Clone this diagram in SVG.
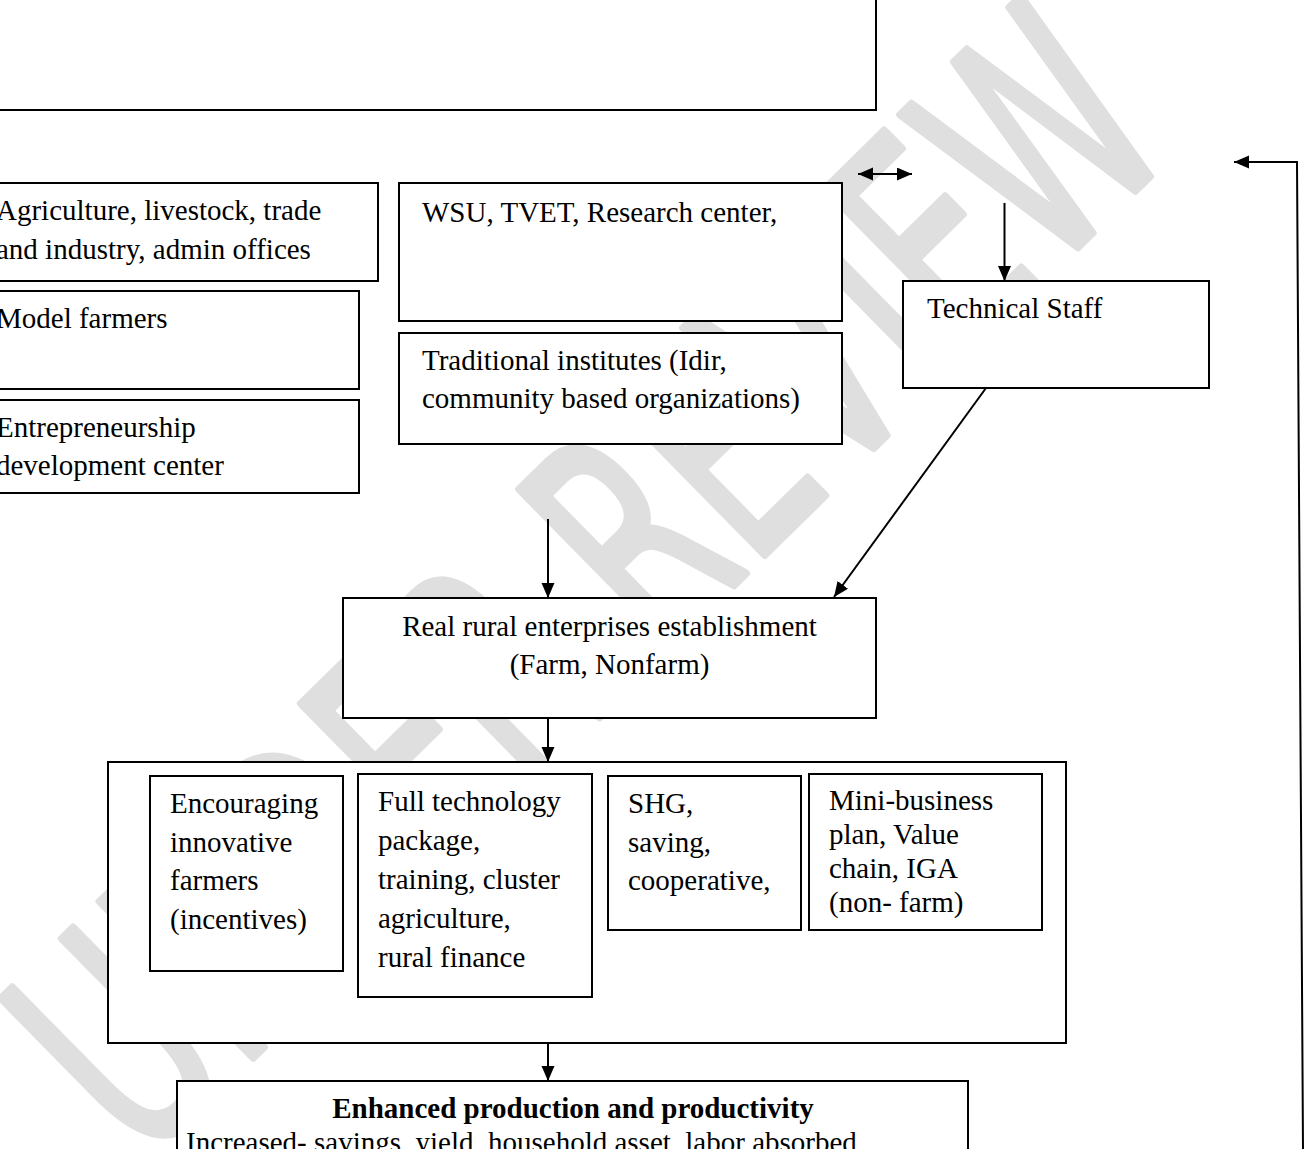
<svg xmlns="http://www.w3.org/2000/svg" width="1306" height="1149" viewBox="0 0 1306 1149">
<style>
.box{fill:#fff;stroke:#000;stroke-width:2}
.t{font-family:"Liberation Serif","Times New Roman",serif;font-size:29px;fill:#000}
.b{font-weight:bold}
.c{fill:none;stroke:#000;stroke-width:2}
.wm{font-family:"DejaVu Sans",sans-serif;font-size:300px;fill:#dfdfdf;stroke:#dfdfdf;stroke-width:8;stroke-linejoin:round;stroke-linecap:round}
</style>
<defs>
<marker id="ah" markerUnits="userSpaceOnUse" markerWidth="16" markerHeight="14" refX="15" refY="6.5" orient="auto-start-reverse" viewBox="0 0 16 14">
<path d="M0,0 L15,6.5 L0,13 z" fill="#000"/>
</marker>
</defs>
<rect width="1306" height="1149" fill="#fff"/>
<g id="watermark">
<text class="wm" transform="translate(585,580) rotate(-44.5) scale(0.62,1)" x="0" y="108" text-anchor="middle">UNDER REVIEW</text>
</g>
<g id="top-box"><rect class="box" x="-10" y="-10" width="886" height="120"/></g>
<g id="agriculture"><rect class="box" x="-10" y="183" width="388" height="98"/>
<text class="t" x="-4" y="220">Agriculture, livestock, trade</text>
<text class="t" x="-4" y="259">and industry, admin offices</text></g>
<g id="model-farmers"><rect class="box" x="-10" y="291" width="369" height="98"/>
<text class="t" x="-4" y="328">Model farmers</text></g>
<g id="entrepreneurship"><rect class="box" x="-10" y="400" width="369" height="93"/>
<text class="t" x="-4" y="437">Entrepreneurship</text>
<text class="t" x="-4" y="475">development center</text></g>
<g id="wsu"><rect class="box" x="399" y="183" width="443" height="138"/>
<text class="t" x="422" y="222">WSU, TVET, Research center,</text></g>
<g id="traditional"><rect class="box" x="399" y="333" width="443" height="111"/>
<text class="t" x="422" y="370">Traditional institutes (Idir,</text>
<text class="t" x="422" y="408">community based organizations)</text></g>
<g id="technical-staff"><rect class="box" x="903" y="281" width="306" height="107"/>
<text class="t" x="927" y="318">Technical Staff</text></g>
<g id="real-rural"><rect class="box" x="343" y="598" width="533" height="120"/>
<text class="t" x="609.5" y="636" text-anchor="middle">Real rural enterprises establishment</text>
<text class="t" x="609.5" y="674" text-anchor="middle">(Farm, Nonfarm)</text></g>
<g id="activities"><rect class="box" x="108" y="762" width="958" height="281"/></g>
<g id="encouraging"><rect class="box" x="150" y="776" width="193" height="195"/>
<text class="t" x="170" y="813">Encouraging</text>
<text class="t" x="170" y="851.5">innovative</text>
<text class="t" x="170" y="890">farmers</text>
<text class="t" x="170" y="928.5">(incentives)</text></g>
<g id="full-technology"><rect class="box" x="358" y="774" width="234" height="223"/>
<text class="t" x="378" y="811">Full technology</text>
<text class="t" x="378" y="850">package,</text>
<text class="t" x="378" y="889">training, cluster</text>
<text class="t" x="378" y="927.5">agriculture,</text>
<text class="t" x="378" y="966.5">rural finance</text></g>
<g id="shg"><rect class="box" x="608" y="776" width="193" height="154"/>
<text class="t" x="628" y="813">SHG,</text>
<text class="t" x="628" y="852">saving,</text>
<text class="t" x="628" y="890">cooperative,</text></g>
<g id="mini-business"><rect class="box" x="809" y="774" width="233" height="156"/>
<text class="t" x="829" y="810">Mini-business</text>
<text class="t" x="829" y="844">plan, Value</text>
<text class="t" x="829" y="878">chain, IGA</text>
<text class="t" x="829" y="912">(non- farm)</text></g>
<g id="enhanced"><rect class="box" x="177" y="1081" width="791" height="90"/>
<text class="t b" x="573" y="1118" text-anchor="middle">Enhanced production and productivity</text>
<text class="t" x="186" y="1152">Increased- savings, yield, household asset, labor absorbed</text></g>
<g id="connectors">
<line class="c" x1="858" y1="174" x2="912" y2="174" marker-start="url(#ah)" marker-end="url(#ah)"/>
<line class="c" x1="1004.5" y1="203" x2="1004.5" y2="281" marker-end="url(#ah)"/>
<line class="c" x1="986" y1="388" x2="834" y2="597" marker-end="url(#ah)"/>
<line class="c" x1="548" y1="519" x2="548" y2="598" marker-end="url(#ah)"/>
<line class="c" x1="548" y1="718" x2="548" y2="762" marker-end="url(#ah)"/>
<line class="c" x1="548" y1="1043" x2="548" y2="1081" marker-end="url(#ah)"/>
<polyline class="c" points="1303,1149 1297,162 1234,162" marker-end="url(#ah)"/>
</g>
</svg>
